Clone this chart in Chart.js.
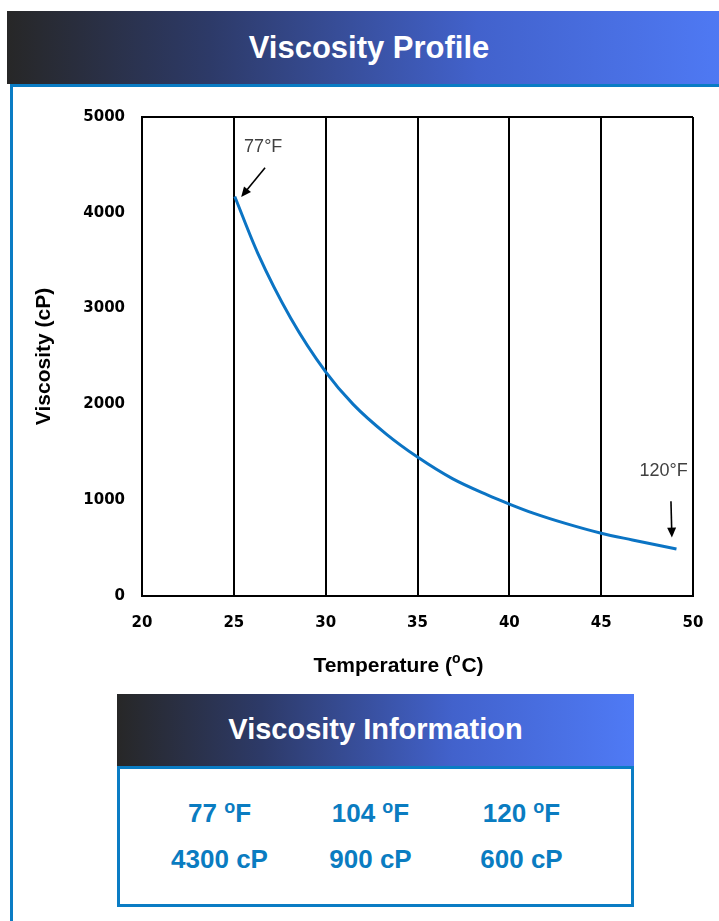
<!DOCTYPE html>
<html lang="en">
  <head>
    <meta charset="UTF-8" />
    <title>Viscosity Profile</title>
    <script src="https://cdn.jsdelivr.net/npm/chart.js"></script>
    <style>
      body {
        margin: 0;
        background: #ffffff;
        font-family: "Liberation Sans", Arial, sans-serif;
        overflow: hidden;
      }
      .bar {
        position: absolute;
        background: linear-gradient(to right, #272727 0%, #2d3a68 28%, #4262cc 65%, #4f7af5 100%);
        color: #ffffff;
        font-weight: bold;
        text-align: center;
      }
      .header {
        left: 7px;
        top: 11px;
        width: 724px;
        height: 73px;
        line-height: 73px;
        font-size: 31px;
      }
      .panel {
        position: absolute;
        left: 10px;
        top: 84px;
        width: 720px;
        height: 860px;
        border: 3px solid #0a7cc4;
        box-sizing: border-box;
      }
      .chart-box {
        position: absolute;
        left: 14px;
        top: 88px;
        width: 705px;
        height: 600px;
      }
      .info-head {
        left: 117px;
        top: 694px;
        width: 517px;
        height: 72px;
        line-height: 70px;
        font-size: 29px;
      }
      .info-body {
        position: absolute;
        left: 117px;
        top: 766px;
        width: 517px;
        height: 141px;
        border: 3px solid #0a7cc4;
        box-sizing: border-box;
        display: flex;
        justify-content: center;
        padding-top: 29px;
        padding-right: 10px;
      }
      .col {
        width: 151px;
        text-align: center;
        color: #0a7cc1;
        font-weight: bold;
        font-size: 26px;
      }
      .col div {
        height: 46px;
      }
      sup {
        font-size: 18px;
        vertical-align: 9px;
        line-height: 0;
      }
    </style>
  </head>
  <body>
    <div class="bar header">Viscosity Profile</div>
    <div class="panel"></div>
    <div class="chart-box"><canvas id="viscChart"></canvas></div>
    <div class="bar info-head">Viscosity Information</div>
    <div class="info-body" id="infoBody"></div>

    <script>
      // curve (temperature in C, viscosity in cP)
      const tempsC = [25.05, 26.3, 28.1, 30, 31.5, 33.3, 35, 36.9, 38.8, 40, 41.3, 43.1, 45, 46.7, 49.1];
      const viscCp = [4170, 3580, 2900, 2340, 2000, 1690, 1450, 1225, 1055, 960, 865, 755, 655, 585, 490];

      // axis ticks
      const xTicks = [20, 25, 30, 35, 40, 45, 50];
      const yTicks = [0, 1000, 2000, 3000, 4000, 5000];

      // callouts on the chart (data coordinates)
      const noteLabels = ["77°F", "120°F"];
      const noteTextX = [26.6, 48.4];
      const noteTextY = [4690, 1300];
      const noteTailX = [26.7, 48.8];
      const noteTailY = [4470, 990];
      const noteHeadX = [25.4, 48.85];
      const noteHeadY = [4165, 610];

      // information table
      const infoTempF = ["77", "104", "120"];
      const infoVisc = [4300, 900, 600];

      const infoBody = document.getElementById("infoBody");
      infoTempF.forEach((t, i) => {
        const col = document.createElement("div");
        col.className = "col";
        col.innerHTML = "<div>" + t + " <sup>o</sup>F</div><div>" + infoVisc[i] + " cP</div>";
        infoBody.appendChild(col);
      });

      // arrows + labels and the x-axis title with superscript
      const extras = {
        id: "extras",
        afterDraw(chart) {
          const c = chart.ctx;
          const xs = chart.scales.x;
          const ys = chart.scales.y;
          c.save();
          c.font = '18px "Liberation Sans", Arial, sans-serif';
          c.textAlign = "center";
          c.textBaseline = "middle";
          noteLabels.forEach((lbl, i) => {
            c.fillStyle = "#404040";
            c.fillText(lbl, xs.getPixelForValue(noteTextX[i]), ys.getPixelForValue(noteTextY[i]));
            const x1 = xs.getPixelForValue(noteTailX[i]);
            const y1 = ys.getPixelForValue(noteTailY[i]);
            const x2 = xs.getPixelForValue(noteHeadX[i]);
            const y2 = ys.getPixelForValue(noteHeadY[i]);
            const ang = Math.atan2(y2 - y1, x2 - x1);
            c.strokeStyle = "#000";
            c.fillStyle = "#000";
            c.lineWidth = 1.6;
            c.beginPath();
            c.moveTo(x1, y1);
            c.lineTo(x2 - 6 * Math.cos(ang), y2 - 6 * Math.sin(ang));
            c.stroke();
            c.beginPath();
            c.moveTo(x2, y2);
            c.lineTo(x2 - 10 * Math.cos(ang) + 4.5 * Math.sin(ang), y2 - 10 * Math.sin(ang) - 4.5 * Math.cos(ang));
            c.lineTo(x2 - 10 * Math.cos(ang) - 4.5 * Math.sin(ang), y2 - 10 * Math.sin(ang) + 4.5 * Math.cos(ang));
            c.closePath();
            c.fill();
          });

          // "Temperature (oC)" with raised small o
          const area = chart.chartArea;
          const ty = area.bottom + 70;
          const big = 'bold 21px "Liberation Sans", Arial, sans-serif';
          const small = 'bold 14px "Liberation Sans", Arial, sans-serif';
          c.fillStyle = "#000";
          c.textAlign = "left";
          c.textBaseline = "middle";
          c.font = big;
          const p1 = "Temperature (";
          const p3 = "C)";
          const w1 = c.measureText(p1).width;
          const w3 = c.measureText(p3).width;
          c.font = small;
          const w2 = c.measureText("o").width + 1;
          const cx = (area.left + area.right) / 2 - 19;
          let x = cx - (w1 + w2 + w3) / 2;
          c.font = big;
          c.fillText(p1, x, ty);
          x += w1;
          c.font = small;
          c.fillText("o", x, ty - 7);
          x += w2;
          c.font = big;
          c.fillText(p3, x, ty);
          c.restore();
        }
      };

      const tickFont = { family: '"DejaVu Sans", Verdana, sans-serif', size: 15, weight: "bold" };

      new Chart(document.getElementById("viscChart"), {
        type: "line",
        data: {
          datasets: [
            {
              data: tempsC.map((t, i) => ({ x: t, y: viscCp[i] })),
              borderColor: "#0b74c4",
              borderWidth: 3,
              pointRadius: 0,
              cubicInterpolationMode: "monotone",
              fill: false
            }
          ]
        },
        options: {
          responsive: true,
          maintainAspectRatio: false,
          animation: false,
          layout: { padding: { left: 0, right: 26, top: 29, bottom: 0 } },
          plugins: {
            legend: { display: false },
            tooltip: { enabled: false }
          },
          scales: {
            x: {
              type: "linear",
              min: 20,
              max: 50,
              afterBuildTicks: s => { s.ticks = xTicks.map(v => ({ value: v })); },
              afterFit: s => { s.height = 92; },
              grid: {
                color: "#000",
                lineWidth: 2,
                drawTicks: true,
                tickLength: 3,
                tickColor: "rgba(0,0,0,0)"
              },
              border: { color: "#000", width: 2 },
              ticks: {
                padding: 15,
                color: "#000",
                font: tickFont,
                callback: v => String(v)
              }
            },
            y: {
              min: 0,
              max: 5000,
              afterBuildTicks: s => { s.ticks = yTicks.map(v => ({ value: v })); },
              afterFit: s => { s.width = 128; },
              grid: {
                drawTicks: false,
                lineWidth: 2,
                color: ctx => (ctx.tick && ctx.tick.value === 5000 ? "#000" : "rgba(0,0,0,0)")
              },
              border: { color: "#000", width: 2 },
              title: {
                display: true,
                text: "Viscosity (cP)",
                color: "#000",
                padding: { top: 18, bottom: 0 },
                font: { family: '"Liberation Sans", Arial, sans-serif', size: 21, weight: "bold" }
              },
              ticks: {
                padding: 17,
                color: "#000",
                font: tickFont,
                callback: v => String(v)
              }
            }
          }
        },
        plugins: [extras]
      });
    </script>
  </body>
</html>
